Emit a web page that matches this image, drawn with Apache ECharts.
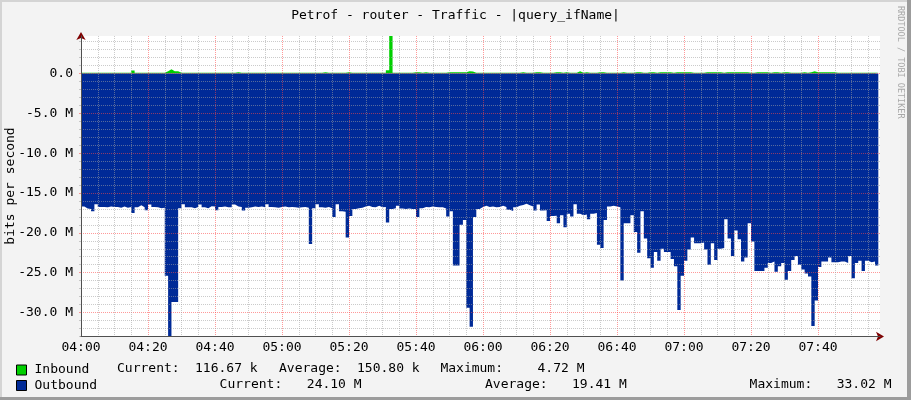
<!DOCTYPE html>
<html><head><meta charset="utf-8">
<script src="https://cdn.jsdelivr.net/npm/echarts@6/dist/echarts.min.js"></script>
<style>html,body{margin:0;padding:0;background:#f3f3f3;}#c{width:911px;height:400px;}</style>
</head><body><div id="c"></div>
<script>
// ---------- data ----------
const titleText = 'Petrof - router - Traffic - |query_ifName|';
const yAxisTitle = 'bits per second';
const watermark = 'RRDTOOL / TOBI OETIKER';
const seriesNames = ['Inbound', 'Outbound'];
const xTickValues = [0, 20, 40, 60, 80, 100, 120, 140, 160, 180, 200, 220]; // minutes after 04:00
const xTickLabels = ['04:00','04:20','04:40','05:00','05:20','05:40','06:00','06:20','06:40','07:00','07:20','07:40'];
const yTickValues = [0, -5, -10, -15, -20, -25, -30];
const yTickLabels = ['0.0','-5.0 M','-10.0 M','-15.0 M','-20.0 M','-25.0 M','-30.0 M'];
const statLabels = ['Current:', 'Average:', 'Maximum:'];
const inboundStats = ['116.67 k', '150.80 k', '4.72 M'];
const outboundStats = ['24.10 M', '19.41 M', '33.02 M'];
// one sample per minute, in Mbit/s
const inboundMbps = [
 0.10,0.10,0.10,0.10,0.10,0.10,0.10,0.10,0.10,0.10,
 0.10,0.10,0.10,0.10,0.10,0.40,0.10,0.10,0.10,0.10,
 0.10,0.10,0.10,0.10,0.10,0.30,0.55,0.30,0.30,0.10,
 0.10,0.10,0.10,0.10,0.10,0.10,0.10,0.10,0.10,0.10,
 0.10,0.10,0.10,0.10,0.10,0.10,0.18,0.10,0.10,0.10,
 0.10,0.10,0.10,0.10,0.10,0.10,0.10,0.10,0.10,0.10,
 0.10,0.10,0.10,0.10,0.10,0.10,0.10,0.10,0.10,0.10,
 0.10,0.10,0.18,0.10,0.10,0.10,0.10,0.10,0.10,0.18,
 0.10,0.10,0.10,0.10,0.10,0.10,0.10,0.10,0.10,0.10,
 0.10,0.42,4.72,0.10,0.10,0.10,0.10,0.10,0.10,0.18,
 0.18,0.10,0.18,0.10,0.10,0.10,0.10,0.10,0.10,0.18,
 0.18,0.18,0.18,0.18,0.18,0.30,0.25,0.10,0.10,0.10,
 0.10,0.10,0.10,0.10,0.10,0.10,0.10,0.10,0.10,0.10,
 0.10,0.18,0.10,0.10,0.10,0.18,0.18,0.10,0.10,0.10,
 0.10,0.18,0.18,0.10,0.18,0.10,0.10,0.10,0.30,0.10,
 0.18,0.10,0.10,0.10,0.18,0.18,0.10,0.10,0.10,0.10,
 0.10,0.18,0.10,0.10,0.10,0.18,0.18,0.10,0.10,0.18,
 0.18,0.10,0.18,0.18,0.18,0.18,0.10,0.18,0.18,0.18,
 0.18,0.18,0.10,0.10,0.10,0.10,0.18,0.18,0.18,0.18,
 0.18,0.10,0.18,0.18,0.18,0.18,0.18,0.18,0.18,0.10,
 0.10,0.18,0.18,0.18,0.18,0.10,0.18,0.18,0.10,0.18,
 0.18,0.10,0.10,0.10,0.10,0.18,0.10,0.18,0.30,0.18,
 0.18,0.18,0.18,0.18,0.18,0.10,0.10,0.10,0.10,0.10,
 0.10,0.10,0.10,0.10,0.10,0.10,0.10,0.10,0.12
];
const outboundMbps = [
 16.7,16.95,17.0,17.3,16.4,16.75,16.75,16.8,16.7,16.75,
 16.75,16.85,16.7,16.85,16.75,17.5,16.8,16.55,16.8,17.15,
 16.45,16.75,16.8,16.9,16.85,25.4,33.02,28.7,28.7,16.9,
 16.4,16.8,16.8,16.9,16.75,16.45,16.8,16.9,16.65,16.7,
 17.15,16.75,16.7,16.8,16.8,16.45,16.7,16.75,17.2,16.85,
 16.8,16.7,16.75,16.7,16.8,16.4,16.75,16.8,16.85,16.75,
 16.7,16.8,16.75,16.8,16.85,16.8,16.75,16.85,21.4,16.9,
 16.4,16.8,16.85,16.75,16.9,18.0,16.4,17.3,17.35,20.6,
 17.9,17.0,16.9,16.85,16.7,16.6,16.75,16.8,16.6,16.8,
 16.75,18.7,17.0,16.9,16.6,16.95,17.0,16.95,17.0,17.0,
 18.0,16.9,16.75,16.8,16.7,16.75,16.8,16.8,16.95,17.95,
 17.3,24.1,24.1,19.0,18.4,29.4,31.8,18.0,17.0,16.75,
 16.6,16.75,16.7,16.8,16.75,16.6,16.75,17.1,17.25,16.8,
 16.6,16.5,16.35,16.55,16.7,17.2,16.45,17.2,17.15,18.5,
 17.9,17.85,18.8,17.8,19.3,17.6,17.95,16.4,17.6,17.8,
 17.7,18.3,17.6,17.5,21.5,21.9,18.4,16.7,16.6,16.7,
 16.8,26.0,18.8,18.8,17.8,19.9,22.5,17.3,20.7,23.2,
 24.4,22.4,23.5,22.0,22.4,22.4,23.3,24.2,29.7,25.4,
 23.5,22.1,20.6,21.3,21.3,21.2,22.1,24.0,21.3,23.4,
 22.0,21.9,18.3,20.7,22.9,19.7,20.8,23.6,23.1,18.8,
 21.1,24.8,24.8,24.8,24.4,23.8,23.6,24.9,24.2,23.8,
 25.9,24.8,23.4,22.9,24.0,24.6,25.1,25.5,31.7,28.5,
 24.3,23.6,23.6,23.1,23.7,23.7,23.6,23.6,23.8,22.9,
 25.7,23.8,23.5,24.8,23.5,23.7,23.6,24.1,24.1
];

// ---------- layout / style ----------
const FONT_FAMILY = 'DejaVu Sans Mono';
const FONT = '13px "DejaVu Sans Mono"';
const GREEN = '#00CF00', BLUE = '#002A97';
const GRID_GREY = 'rgba(160,160,160,0.55)';
const GRID_RED = 'rgba(255,70,70,0.55)';
const Y_MIN = -33.02, Y_MAX = 4.72, X_MAX = 238.5;

const minorX = []; for (let v = 5; v < X_MAX; v += 5) if (v % 20 !== 0) minorX.push(v);
const minorY = []; for (let v = -33; v <= 4; v++) if (v % 5 !== 0) minorY.push(v);

const inData = inboundMbps.map((v, i) => [i, v]);
const outData = outboundMbps.map((v, i) => [i, -v]);

function txt(x, y, text) {
  return { type: 'text', x, y, z: 10, style: { text, font: FONT, fill: '#000', verticalAlign: 'middle' } };
}

const chart = echarts.init(document.getElementById('c'), null, { renderer: 'canvas' });
chart.setOption({
  animation: false,
  backgroundColor: '#f3f3f3',
  title: { text: titleText, left: 'center', top: 4, textStyle: { fontFamily: FONT_FAMILY, fontSize: 13, fontWeight: 'normal', color: '#000' } },
  grid: { left: 81, top: 36, width: 799, height: 300.5, show: true, backgroundColor: '#fff', borderWidth: 0, containLabel: false, outerBoundsMode: 'none' },
  legend: {
    data: seriesNames, orient: 'vertical', left: 16, top: 363.5, padding: 0, itemWidth: 10, itemHeight: 10, itemGap: 2.5, icon: 'rect',
    itemStyle: { borderColor: '#000', borderWidth: 1 },
    textStyle: { fontFamily: FONT_FAMILY, fontSize: 13, color: '#000', lineHeight: 13, padding: [0, 0, 0, 3] }
  },
  xAxis: [
    { // minor grid + visible axis line
      type: 'value', min: 0, max: X_MAX, z: 4, position: 'bottom',
      axisLine: { show: true, onZero: false, lineStyle: { color: '#505050' } },
      axisTick: { show: false, customValues: minorX },
      axisLabel: { show: false },
      splitLine: { show: true, lineStyle: { color: GRID_GREY, type: [1, 1] } }
    },
    { // major grid + labels + arrow
      type: 'value', min: 0, max: X_MAX, z: 3, position: 'bottom',
      axisLine: { show: true, onZero: false, symbol: ['none', 'arrow'], symbolSize: [7, 8], symbolOffset: [0, 4], lineStyle: { color: '#7f0000' } },
      axisTick: { show: false, customValues: xTickValues },
      axisLabel: { customValues: xTickValues, margin: 5, fontFamily: FONT_FAMILY, fontSize: 13, color: '#000',
        formatter: v => { const k = xTickValues.indexOf(v); return k >= 0 ? xTickLabels[k] : ''; } },
      splitLine: { show: true, lineStyle: { color: GRID_RED, type: [1, 1] } }
    }
  ],
  yAxis: [
    { // major grid + labels + arrow
      type: 'value', min: Y_MIN, max: Y_MAX, z: 3, position: 'left',
      axisLine: { show: true, onZero: false, symbol: ['none', 'arrow'], symbolSize: [7, 8], symbolOffset: [0, 4], lineStyle: { color: '#7f0000' } },
      axisTick: { show: true, length: 2, customValues: yTickValues, lineStyle: { color: GRID_RED } },
      axisLabel: { customValues: yTickValues, margin: 8, fontFamily: FONT_FAMILY, fontSize: 13, color: '#000',
        formatter: v => { const k = yTickValues.indexOf(v); return k >= 0 ? yTickLabels[k] : ''; } },
      splitLine: { show: true, lineStyle: { color: GRID_RED, type: [1, 1] } }
    },
    { // minor grid + visible axis line
      type: 'value', min: Y_MIN, max: Y_MAX, z: 4, position: 'left',
      axisLine: { show: true, onZero: false, lineStyle: { color: '#505050' } },
      axisTick: { show: true, length: 2, customValues: minorY, lineStyle: { color: GRID_GREY } },
      axisLabel: { show: false },
      splitLine: { show: true, lineStyle: { color: GRID_GREY, type: [1, 1] } }
    }
  ],
  series: [
    { name: seriesNames[0], type: 'line', xAxisIndex: 1, yAxisIndex: 0, step: 'end', data: inData, showSymbol: false, z: 2,
      itemStyle: { color: GREEN }, lineStyle: { width: 0, color: GREEN }, areaStyle: { color: GREEN, opacity: 1 } },
    { name: seriesNames[1], type: 'line', xAxisIndex: 1, yAxisIndex: 0, step: 'end', data: outData, showSymbol: false, z: 2,
      itemStyle: { color: BLUE }, lineStyle: { width: 0, color: BLUE }, areaStyle: { color: BLUE, opacity: 1 } }
  ],
  graphic: [
    { type: 'rect', shape: { x: 0, y: 0, width: 911, height: 2 }, style: { fill: '#d4d4d4' }, z: 0 },
    { type: 'rect', shape: { x: 0, y: 0, width: 2, height: 400 }, style: { fill: '#d4d4d4' }, z: 0 },
    { type: 'rect', shape: { x: 907, y: 0, width: 4, height: 400 }, style: { fill: '#9c9c9c' }, z: 0 },
    { type: 'rect', shape: { x: 0, y: 397, width: 911, height: 3 }, style: { fill: '#9c9c9c' }, z: 0 },
    { type: 'text', x: 905, y: 6, rotation: -Math.PI / 2, z: 10,
      style: { text: watermark, font: '8.5px "DejaVu Sans Mono"', fill: '#a8a8a8', align: 'left', verticalAlign: 'top' } },
    { type: 'text', x: 10.5, y: 186, rotation: Math.PI / 2, z: 10,
      style: { text: yAxisTitle, font: FONT, fill: '#000', align: 'center', verticalAlign: 'middle' } },
    txt(117, 369, statLabels[0]), txt(195, 369, inboundStats[0]),
    txt(279, 369, statLabels[1]), txt(357, 369, inboundStats[1]),
    txt(440.4, 369, statLabels[2]), txt(537.5, 369, inboundStats[2]),
    txt(219.6, 384.5, statLabels[0]), txt(306.8, 384.5, outboundStats[0]),
    txt(485, 384.5, statLabels[1]), txt(572, 384.5, outboundStats[1]),
    txt(749.6, 384.5, statLabels[2]), txt(836.7, 384.5, outboundStats[2])
  ]
});
</script></body></html>
